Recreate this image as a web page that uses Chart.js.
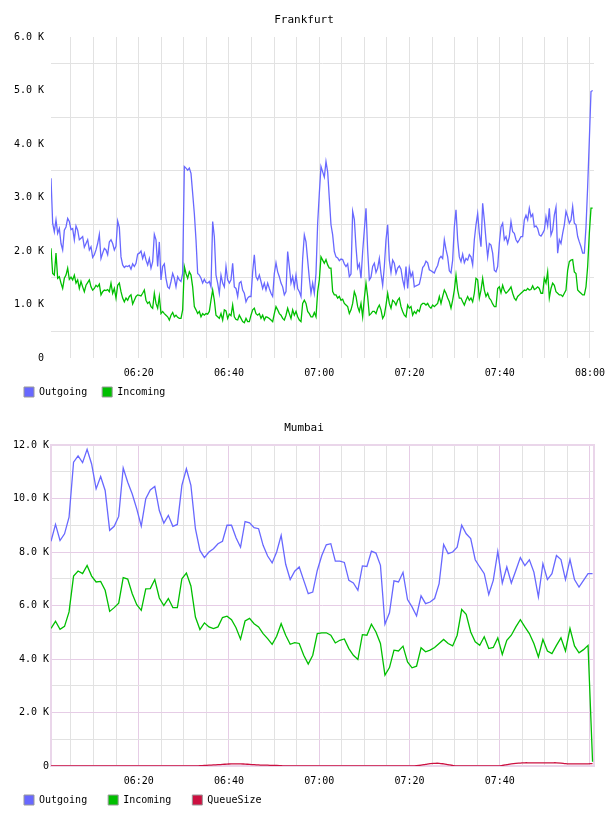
<!DOCTYPE html>
<html>
<head>
<meta charset="utf-8">
<title>Frankfurt / Mumbai traffic</title>
<script src="https://cdn.jsdelivr.net/npm/chart.js@4/dist/chart.umd.min.js"></script>
<style>
  body { margin: 0; background: #fff; }
  canvas { display: block; }
</style>
</head>
<body>
<canvas id="frankfurt" width="608" height="408"></canvas>
<canvas id="mumbai" width="608" height="408"></canvas>
<script>
// Time axis is minutes after 06:00
const xTicks = [5, 10, 15, 20, 25, 30, 35, 40, 45, 50, 55, 60, 65, 70, 75, 80, 85, 90, 95, 100, 105, 110, 115, 120];
const X_MIN = 0.57;
const X_MAX = 120.89;

// Frankfurt: one sample every ~22 s, values in K
const frankfurtStart = 0.57;
const frankfurtStep = 0.3693;
const frankfurtOutgoing = [
  3.36, 2.52, 2.36, 2.58, 2.33, 2.42, 2.14, 2.02, 2.39, 2.45,
  2.61, 2.55, 2.40, 2.42, 2.21, 2.47, 2.39, 2.21, 2.24, 2.27,
  2.07, 2.14, 2.21, 2.02, 2.08, 1.88, 1.93, 2.02, 2.14, 2.31,
  1.86, 1.96, 2.05, 2.02, 1.93, 2.17, 2.21, 2.14, 2.02, 2.09,
  2.56, 2.44, 1.89, 1.74, 1.69, 1.72, 1.71, 1.73, 1.66, 1.76,
  1.71, 1.77, 1.94, 1.96, 2.00, 1.86, 1.96, 1.83, 1.74, 1.86,
  1.68, 1.80, 2.31, 2.21, 1.71, 2.17, 1.46, 1.71, 1.76, 1.49,
  1.33, 1.30, 1.43, 1.58, 1.49, 1.33, 1.52, 1.46, 1.43, 1.58,
  3.58, 3.55, 3.51,
  3.55, 3.45, 3.08, 2.70, 2.21, 1.58, 1.55, 1.49, 1.40, 1.47,
  1.41, 1.40, 1.43, 1.33, 2.55, 2.27, 1.55, 1.40, 1.21, 1.55,
  1.40, 1.33, 1.71, 1.46, 1.40, 1.46, 1.77, 1.33, 1.30, 1.15,
  1.40, 1.43, 1.27, 1.21, 1.05, 1.12, 1.15, 1.15, 1.61, 1.93,
  1.52, 1.46, 1.55, 1.43, 1.30, 1.40, 1.27, 1.40, 1.30, 1.21,
  1.15, 1.58, 1.78, 1.61, 1.52, 1.40, 1.33, 1.18, 1.24, 1.99,
  1.71, 1.40, 1.52, 1.33, 1.55, 1.30, 1.24, 1.15, 1.86, 2.30,
  2.17, 1.83, 1.49, 1.21, 1.40, 1.21, 1.58, 2.52, 3.08, 3.58,
  3.48,
  3.38, 3.67, 3.48, 2.98, 2.49, 2.30, 1.99, 1.89, 1.87, 1.82,
  1.85, 1.84, 1.76, 1.71, 1.76, 1.52, 1.57, 2.74, 2.59, 2.08,
  1.68, 1.76, 1.49, 1.99, 2.39, 2.80, 2.02, 1.46, 1.51, 1.71,
  1.77, 1.60, 1.68, 1.86, 1.58, 1.36, 1.71, 2.21, 2.49, 1.83,
  1.60, 1.83, 1.77, 1.58, 1.68, 1.72, 1.66, 1.46, 1.33, 1.71,
  1.30, 1.68, 1.52, 1.60, 1.33, 1.35, 1.36, 1.38, 1.52, 1.69,
  1.73, 1.81, 1.78, 1.65, 1.63, 1.61, 1.59, 1.67, 1.73, 1.86,
  1.90, 1.86, 2.21, 2.03, 1.89, 1.63, 1.59, 1.83, 2.45, 2.77,
  2.21, 1.89,
  1.80, 1.94, 1.78, 1.86, 1.83, 1.93, 1.89, 1.74, 2.21, 2.49,
  2.70, 2.33, 2.08, 2.89, 2.58, 2.21, 1.89, 2.14, 2.11, 1.96,
  1.64, 1.61, 1.71, 2.14, 2.45, 2.52, 2.21, 2.27, 2.14, 2.27,
  2.55, 2.36, 2.33, 2.21, 2.16, 2.21, 2.27, 2.27, 2.58, 2.67,
  2.58, 2.80, 2.64, 2.69, 2.45, 2.47, 2.42, 2.30, 2.28, 2.33,
  2.39, 2.64, 2.47, 2.80, 2.30, 2.39, 2.67, 2.82, 1.96, 2.21,
  2.14, 2.33, 2.49, 2.74, 2.64, 2.52, 2.58, 2.83, 2.52, 2.49,
  2.27, 2.17, 2.08, 1.96, 1.96, 2.45, 3.20, 4.07, 4.98, 5.00
];
const frankfurtIncoming = [
  2.05, 1.58, 1.55, 1.96, 1.49, 1.52, 1.40, 1.30, 1.49, 1.55,
  1.68, 1.47, 1.51, 1.46, 1.55, 1.40, 1.46, 1.30, 1.43, 1.33,
  1.24, 1.36, 1.41, 1.46, 1.33, 1.27, 1.30, 1.36, 1.33, 1.38,
  1.18, 1.24, 1.27, 1.26, 1.28, 1.24, 1.40, 1.21, 1.30, 1.12,
  1.36, 1.40, 1.24, 1.12, 1.05, 1.12, 1.08, 1.15, 1.18, 1.01,
  1.08, 1.15, 1.18, 1.17, 1.16, 1.21, 1.27, 1.08, 1.02, 1.05,
  0.96, 0.93, 1.21, 1.02, 0.93, 1.15, 0.83, 0.87, 0.83, 0.80,
  0.77, 0.71, 0.80, 0.85, 0.77, 0.80, 0.76, 0.74, 0.74, 0.90,
  1.71, 1.58, 1.49,
  1.61, 1.55, 1.33, 0.96, 0.90, 0.83, 0.87, 0.77, 0.83, 0.80,
  0.83, 0.82, 0.87, 1.08, 1.27, 1.08, 0.80, 0.77, 0.74, 0.83,
  0.71, 0.90, 0.88, 0.74, 0.82, 0.79, 0.99, 0.77, 0.72, 0.71,
  0.80, 0.74, 0.68, 0.66, 0.74, 0.68, 0.68, 0.80, 0.90, 0.93,
  0.83, 0.80, 0.83, 0.74, 0.80, 0.71, 0.77, 0.76, 0.74, 0.71,
  0.68, 0.83, 0.96, 0.90, 0.83, 0.80, 0.74, 0.71, 0.80, 0.93,
  0.83, 0.74, 0.90, 0.80, 0.87, 0.77, 0.71, 0.68, 1.02, 1.08,
  1.02, 0.87, 0.83, 0.77, 0.77, 0.85, 0.77, 1.24, 1.46, 1.89,
  1.83,
  1.77, 1.84, 1.74, 1.68, 1.68, 1.24, 1.18, 1.18, 1.12, 1.15,
  1.08, 1.10, 1.02, 0.99, 0.96, 0.83, 0.90, 1.02, 1.24, 1.15,
  0.96, 0.87, 1.02, 0.77, 1.12, 1.40, 1.15, 0.80, 0.83, 0.87,
  0.87, 0.83, 0.93, 0.99, 0.90, 0.74, 0.80, 0.99, 1.21, 1.02,
  0.93, 1.08, 1.05, 0.99, 1.08, 1.12, 0.96, 0.87, 0.80, 0.77,
  0.99, 0.93, 0.96, 0.80, 0.87, 0.83, 0.90, 0.87, 0.99, 1.02,
  1.02, 0.99, 1.02, 0.96, 0.93, 0.99, 0.96, 0.99, 1.02, 1.15,
  1.02, 1.15, 1.27, 1.21, 1.12, 1.05, 0.93, 1.08, 1.27, 1.55,
  1.27, 1.12,
  1.12, 1.05, 0.99, 1.08, 1.15, 1.08, 1.12, 1.05, 1.21, 1.49,
  1.46, 1.12, 1.27, 1.49, 1.27, 1.15, 1.21, 1.12, 1.08, 1.01,
  0.96, 0.96, 1.30, 1.33, 1.22, 1.36, 1.26, 1.21, 1.24, 1.28,
  1.33, 1.21, 1.12, 1.08, 1.15, 1.18, 1.21, 1.24, 1.27, 1.26,
  1.30, 1.27, 1.28, 1.35, 1.28, 1.30, 1.33, 1.30, 1.21, 1.21,
  1.49, 1.40, 1.61, 1.12, 1.30, 1.40, 1.36, 1.24, 1.21, 1.18,
  1.18, 1.15, 1.21, 1.27, 1.64, 1.80, 1.83, 1.84, 1.61, 1.58,
  1.27, 1.24, 1.21, 1.18, 1.18, 1.33, 1.71, 2.33, 2.80, 2.80
];

// Mumbai: one sample per minute, values in K
const mumbaiStart = 0.57;
const mumbaiStep = 1;
const mumbaiOutgoing = [
  8.40, 9.03, 8.43, 8.68, 9.30, 11.36, 11.59, 11.34, 11.84, 11.29,
  10.36, 10.82, 10.30, 8.81, 8.96, 9.33, 11.14, 10.61, 10.17, 9.61,
  8.97, 9.99, 10.32, 10.45, 9.55, 9.08, 9.37, 8.96, 9.03, 10.49,
  11.11, 10.49, 8.87, 8.06, 7.79, 8.00, 8.12, 8.31, 8.40, 9.00,
  9.00, 8.53, 8.18, 9.14, 9.09, 8.91, 8.87, 8.25, 7.85, 7.59,
  8.00, 8.62, 7.54, 6.97, 7.28, 7.44, 6.94, 6.44, 6.50, 7.31,
  7.87, 8.27, 8.31, 7.66, 7.66, 7.61, 6.94, 6.84, 6.57, 7.48,
  7.46, 8.03, 7.96, 7.50, 5.30, 5.73, 6.92, 6.88, 7.24, 6.22,
  5.95, 5.61, 6.36, 6.07, 6.13, 6.26, 6.82, 8.28, 7.94, 8.00,
  8.18, 9.00, 8.68, 8.50, 7.71, 7.44, 7.19, 6.41, 6.94, 8.02,
  6.84, 7.44, 6.84, 7.31, 7.79, 7.49, 7.71, 7.25, 6.32, 7.56,
  6.97, 7.19, 7.87, 7.72, 6.97, 7.72, 6.97, 6.69, 6.94, 7.19,
  7.19
];
const mumbaiIncoming = [
  5.14, 5.41, 5.11, 5.22, 5.76, 7.10, 7.29, 7.19, 7.50, 7.10,
  6.88, 6.90, 6.57, 5.78, 5.92, 6.09, 7.04, 6.99, 6.44, 6.03,
  5.82, 6.62, 6.63, 6.97, 6.28, 6.00, 6.26, 5.92, 5.92, 7.00,
  7.21, 6.73, 5.57, 5.10, 5.35, 5.20, 5.14, 5.20, 5.55, 5.60,
  5.47, 5.17, 4.74, 5.42, 5.52, 5.32, 5.20, 4.95, 4.76, 4.55,
  4.85, 5.32, 4.89, 4.55, 4.61, 4.58, 4.14, 3.81, 4.14, 4.95,
  4.98, 4.98, 4.89, 4.60, 4.70, 4.75, 4.39, 4.14, 3.98, 4.91,
  4.89, 5.30, 5.01, 4.58, 3.40, 3.68, 4.33, 4.30, 4.48, 3.89,
  3.67, 3.73, 4.42, 4.27, 4.33, 4.43, 4.58, 4.73, 4.58, 4.49,
  4.89, 5.85, 5.67, 5.01, 4.64, 4.51, 4.83, 4.39, 4.43, 4.79,
  4.17, 4.70, 4.89, 5.20, 5.47, 5.20, 4.95, 4.58, 4.08, 4.73,
  4.30, 4.20, 4.51, 4.79, 4.30, 5.14, 4.49, 4.23, 4.35, 4.51,
  0.16
];
const mumbaiQueue = [
  0, 0, 0, 0, 0, 0, 0, 0, 0, 0,
  0, 0, 0, 0, 0, 0, 0, 0, 0, 0,
  0, 0, 0, 0, 0, 0, 0, 0, 0, 0,
  0, 0, 0, 0.01, 0.02, 0.03, 0.04, 0.05, 0.06, 0.07,
  0.08, 0.08, 0.08, 0.07, 0.06, 0.05, 0.04, 0.03, 0.03, 0.02,
  0.02, 0.01, 0, 0, 0, 0, 0, 0, 0, 0,
  0, 0, 0, 0, 0, 0, 0, 0, 0, 0,
  0, 0, 0, 0, 0, 0, 0, 0, 0, 0,
  0, 0.01, 0.03, 0.06, 0.09, 0.10, 0.10, 0.08, 0.05, 0.02,
  0, 0, 0, 0, 0, 0, 0, 0, 0, 0,
  0.02, 0.05, 0.08, 0.10, 0.11, 0.12, 0.12, 0.12, 0.12, 0.12,
  0.12, 0.12, 0.12, 0.11, 0.09, 0.08, 0.08, 0.08, 0.08, 0.08,
  0.09
];

const frankfurtYTicks = [0, 0.5, 1, 1.5, 2, 2.5, 3, 3.5, 4, 4.5, 5, 5.5, 6];
const mumbaiYTicks = [0, 1, 2, 3, 4, 5, 6, 7, 8, 9, 10, 11, 12];

const MONO = "'DejaVu Sans Mono', 'Liberation Mono', monospace";
const BLUE = '#6868ff';
const GREEN = '#00bf00';
const RED = '#cc1040';
const GRID_GRAY = '#e2e2e2';
const GRID_PINK = '#e6cde6';

const clockLabel = (minutes) => {
  const h = 6 + Math.floor(minutes / 60);
  const m = minutes % 60;
  return String(h).padStart(2, '0') + ':' + String(m).padStart(2, '0');
};

const kLabel = (v) => (v === 0 ? '0' : v.toFixed(1) + ' K');

const toPoints = (values, start, step) => values.map((v, i) => ({ x: start + i * step, y: v }));

// pink frame round the Mumbai plot
const plotBorder = {
  id: 'plotBorder',
  beforeDatasetsDraw(chart) {
    const { ctx, chartArea: a } = chart;
    ctx.save();
    ctx.strokeStyle = '#ead6ea';
    ctx.lineWidth = 2;
    ctx.strokeRect(a.left, a.top, a.right - a.left, a.bottom - a.top);
    ctx.restore();
  }
};

// the x axis box is kept short so the legend sits close under it;
// let its labels draw below that box instead of being clipped
const tallTickLabels = {
  id: 'tallTickLabels',
  beforeDraw(chart) {
    const x = chart.scales.x;
    x.bottom = x.top + 26;
  }
};

function makeChart(canvasId, cfg) {
  return new Chart(document.getElementById(canvasId), {
    type: 'line',
    data: {
      datasets: cfg.series.map((s) => ({
        label: s.label,
        data: toPoints(s.values, cfg.start, cfg.step),
        borderColor: s.color,
        backgroundColor: s.color,
        borderWidth: 1.3,
        pointRadius: 0,
        tension: s.smooth ? 0.4 : 0,
        fill: false
      }))
    },
    plugins: [tallTickLabels].concat(cfg.plugins || []),
    options: {
      responsive: false,
      animation: false,
      events: [],
      layout: { padding: { left: cfg.sidePad, right: cfg.sidePad, top: 0, bottom: 1 } },
      plugins: {
        title: {
          display: true,
          text: cfg.title,
          color: '#000',
          font: { family: MONO, size: 11, weight: 'normal' },
          padding: { top: 13.4, bottom: 10.4 }
        },
        legend: {
          position: 'bottom',
          align: 'start',
          labels: {
            boxWidth: 10,
            boxHeight: 10,
            padding: cfg.legendPad,
            color: '#000',
            font: { family: MONO, size: 10 },
            generateLabels: (chart) => chart.data.datasets.map((d, i) => ({
              text: d.label,
              fillStyle: d.borderColor,
              strokeStyle: '#999999',
              lineWidth: 1,
              datasetIndex: i
            }))
          }
        },
        tooltip: { enabled: false }
      },
      scales: {
        x: {
          type: 'linear',
          min: X_MIN,
          max: X_MAX,
          afterBuildTicks: (axis) => { axis.ticks = xTicks.map((v) => ({ value: v })); },
          afterFit: (axis) => {
            axis.height = cfg.xAxisHeight;
            axis.paddingLeft = 0;
            axis.paddingRight = 0;
          },
          ticks: {
            autoSkip: false,
            maxRotation: 0,
            padding: 9,
            color: '#000',
            font: { family: MONO, size: 10 },
            callback: (v) => (v % 20 === 0 && v <= cfg.lastLabel ? clockLabel(v) : '')
          },
          grid: {
            drawTicks: false,
            lineWidth: 1,
            color: (ctx) => (cfg.pinkGrid && ctx.tick && ctx.tick.value % 20 === 0 ? GRID_PINK : GRID_GRAY)
          },
          border: { display: false }
        },
        y: {
          min: 0,
          max: cfg.yMax,
          afterBuildTicks: (axis) => { axis.ticks = cfg.yTicks.map((v) => ({ value: v })); },
          afterFit: (axis) => { axis.width = cfg.yAxisWidth; },
          ticks: {
            padding: cfg.yLabelPad,
            color: '#000',
            font: { family: MONO, size: 10 },
            callback: (v) => (v % cfg.yLabelEvery === 0 ? kLabel(v) : '')
          },
          grid: {
            drawTicks: false,
            lineWidth: 1,
            color: (ctx) => cfg.yGridColor(ctx.tick ? ctx.tick.value : 0)
          },
          border: { display: false }
        },
        pad: {
          type: 'linear',
          position: 'right',
          display: true,
          ticks: { display: false },
          grid: { display: false },
          border: { display: false },
          afterFit: (axis) => { axis.width = cfg.rightAxisWidth; }
        }
      }
    }
  });
}

makeChart('frankfurt', {
  title: 'Frankfurt',
  start: frankfurtStart,
  step: frankfurtStep,
  series: [
    { label: 'Outgoing', values: frankfurtOutgoing, color: BLUE },
    { label: 'Incoming', values: frankfurtIncoming, color: GREEN }
  ],
  sidePad: 9,
  legendPad: 15,
  xAxisHeight: 14,
  yAxisWidth: 42,
  rightAxisWidth: 5,
  yLabelPad: 7,
  yMax: 6,
  yTicks: frankfurtYTicks,
  yLabelEvery: 1,
  lastLabel: 120,
  pinkGrid: false,
  // gridlines sit between the labelled values
  yGridColor: (v) => (v % 1 === 0 ? 'rgba(0,0,0,0)' : GRID_GRAY)
});

makeChart('mumbai', {
  title: 'Mumbai',
  start: mumbaiStart,
  step: mumbaiStep,
  series: [
    { label: 'Outgoing', values: mumbaiOutgoing, color: BLUE },
    { label: 'Incoming', values: mumbaiIncoming, color: GREEN },
    { label: 'QueueSize', values: mumbaiQueue, color: RED, smooth: true }
  ],
  plugins: [plotBorder],
  sidePad: 3,
  legendPad: 21,
  xAxisHeight: 8,
  yAxisWidth: 48,
  rightAxisWidth: 11,
  yLabelPad: 2,
  yMax: 12,
  yTicks: mumbaiYTicks,
  yLabelEvery: 2,
  lastLabel: 110,
  pinkGrid: true,
  yGridColor: (v) => (v % 2 === 0 ? GRID_PINK : GRID_GRAY)
});
</script>
</body>
</html>
